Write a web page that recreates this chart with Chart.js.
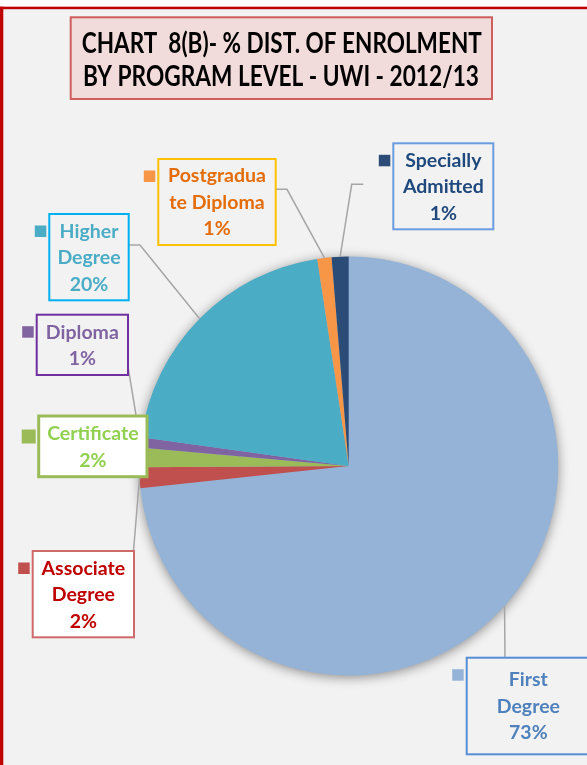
<!DOCTYPE html>
<html>
<head>
<meta charset="utf-8">
<script src="https://cdn.jsdelivr.net/npm/chart.js@4/dist/chart.umd.min.js"></script>
<style>
html,body{margin:0;padding:0;background:#f2f2f2;overflow:hidden;}
canvas{display:block;}
</style>
</head>
<body>
<canvas id="c" width="587" height="765"></canvas>
<script>
// ---- data ----
const titleLines = ['CHART  8(B)- % DIST. OF ENROLMENT', 'BY PROGRAM LEVEL - UWI - 2012/13'];
const categories = ['First Degree', 'Associate Degree', 'Certificate', 'Diploma', 'Higher Degree', 'Postgraduate Diploma', 'Specially Admitted'];
const categoryLabelLines = [['First', 'Degree'], ['Associate', 'Degree'], ['Certificate'], ['Diploma'], ['Higher', 'Degree'], ['Postgradua', 'te Diploma'], ['Specially', 'Admitted']];
const sharePct = [73.3, 1.6, 1.5, 0.8, 20.4, 1.1, 1.3];

// ---- styles ----
const sliceColors = ['#95b3d7', '#c0504d', '#9bbb59', '#8064a2', '#4bacc6', '#f79646', '#2b4c77'];
const labelTextColors = ['#4f81bd', '#c00000', '#92d050', '#8064a2', '#4bacc6', '#e46c0a', '#1f497d'];
const FONT = 'Lato, "Open Sans", "DejaVu Sans", sans-serif';

// callout layout (positions only)
const callouts = [
  {box: [466.7, 657.7, 123.3, 96.6], border: '#558ed5', bw: 2, fill: null, marker: 11.5, leader: [[505, 657.7]]},
  {box: [32.7, 551, 101.3, 86.3], border: '#d06a6a', bw: 2, fill: '#ffffff', marker: 11.5, leader: [[133.5, 551]]},
  {box: [38.7, 416, 108.3, 60.7], border: '#9bbb59', bw: 3, fill: '#ffffff', marker: 14, leader: null},
  {box: [36.7, 314.7, 91.3, 60.3], border: '#7030a0', bw: 2, fill: null, marker: 11.5, leader: [[128, 366.7]]},
  {box: [49.3, 214, 79.4, 86.3], border: '#00b0f0', bw: 2, fill: null, marker: 11.5, leader: [[140, 245], [128.7, 245]]},
  {box: [158.3, 159, 117.4, 86], border: '#ffc000', bw: 2, fill: null, marker: 11.5, leader: [[287, 189.3], [275.7, 189.3]]},
  {box: [393.3, 143.3, 100, 86], border: '#6a9ce0', bw: 2, fill: null, marker: 11.5, leader: [[351.7, 184.3], [363.3, 184.3]]}
];

const framePlugin = {
  id: 'frame',
  beforeDraw(chart) {
    const ctx = chart.ctx;
    const W = chart.width, H = chart.height;
    ctx.save();
    ctx.fillStyle = '#ffffff';
    ctx.fillRect(0, 0, W, H);
    ctx.fillStyle = '#f2f2f2';
    ctx.fillRect(0, 6.7, W, H);
    ctx.fillStyle = '#c00000';
    ctx.fillRect(0, 6.7, W, 2.5);
    ctx.fillRect(0, 6.7, 3.3, H);
    // title box
    ctx.fillStyle = '#f2dcdb';
    ctx.fillRect(70.7, 17.3, 421.3, 81.7);
    ctx.strokeStyle = '#cd5f5d';
    ctx.lineWidth = 2;
    ctx.strokeRect(70.7, 17.3, 421.3, 81.7);
    ctx.fillStyle = '#000000';
    ctx.font = 'bold 28.5px ' + FONT;
    ctx.textAlign = 'center';
    ctx.textBaseline = 'alphabetic';
    ctx.fillText(titleLines[0], 281.8, 53.3, 400);
    ctx.fillText(titleLines[1], 281, 86, 396);
    ctx.restore();
  },
  beforeDatasetsDraw(chart) {
    const meta = chart.getDatasetMeta(0);
    const a = meta.data[0];
    if (!a) return;
    const p = a.getProps(['x', 'y', 'outerRadius'], true);
    const ctx = chart.ctx;
    ctx.save();
    ctx.shadowColor = 'rgba(0,0,0,0.45)';
    ctx.shadowBlur = 12;
    ctx.shadowOffsetY = 2;
    ctx.fillStyle = '#95b3d7';
    ctx.beginPath();
    ctx.arc(p.x, p.y, p.outerRadius - 0.5, 0, Math.PI * 2);
    ctx.fill();
    ctx.restore();
  },
  afterDatasetsDraw(chart) {
    const ctx = chart.ctx;
    const meta = chart.getDatasetMeta(0);
    ctx.save();
    // leader lines
    ctx.strokeStyle = '#a6a6a6';
    ctx.lineWidth = 1.5;
    meta.data.forEach((arc, i) => {
      const c = callouts[i];
      if (!c.leader) return;
      const p = arc.getProps(['x', 'y', 'startAngle', 'endAngle', 'outerRadius'], true);
      const mid = (p.startAngle + p.endAngle) / 2;
      const ex = p.x + Math.cos(mid) * p.outerRadius;
      const ey = p.y + Math.sin(mid) * p.outerRadius;
      ctx.beginPath();
      ctx.moveTo(ex, ey);
      c.leader.forEach(pt => ctx.lineTo(pt[0], pt[1]));
      ctx.stroke();
    });
    // boxes, markers, texts
    const lineGap = 26.5;
    const capH = 19.5 * 0.7165;
    meta.data.forEach((arc, i) => {
      const c = callouts[i];
      const [x, y, w, h] = c.box;
      if (c.fill) {
        ctx.fillStyle = c.fill;
        ctx.fillRect(x, y, w, h);
      }
      ctx.strokeStyle = c.border;
      ctx.lineWidth = c.bw;
      ctx.strokeRect(x, y, w, h);
      ctx.fillStyle = sliceColors[i];
      ctx.fillRect(x - 14.5 - (c.marker - 11.5), y + 11.5 + (c.marker > 12 ? 2 : 0), c.marker, c.marker);
      const lines = categoryLabelLines[i].concat([Math.round(sharePct[i]) + '%']);
      ctx.fillStyle = labelTextColors[i];
      ctx.font = 'bold 19.5px ' + FONT;
      ctx.textAlign = 'center';
      ctx.textBaseline = 'alphabetic';
      const cx = x + w / 2, cy = y + h / 2;
      lines.forEach((t, k) => {
        const by = cy + (k - (lines.length - 1) / 2) * lineGap + capH / 2;
        ctx.fillText(t, cx, by);
      });
    });
    ctx.restore();
  }
};

new Chart(document.getElementById('c'), {
  type: 'pie',
  data: {
    labels: categories,
    datasets: [{
      data: sharePct,
      backgroundColor: sliceColors,
      borderWidth: 0
    }]
  },
  options: {
    responsive: false,
    animation: false,
    layout: {padding: {left: 139.2, right: 28.8, top: 256.5, bottom: 89.5}},
    plugins: {
      legend: {display: false},
      tooltip: {enabled: false},
      title: {display: false}
    }
  },
  plugins: [framePlugin]
});
</script>
</body>
</html>
